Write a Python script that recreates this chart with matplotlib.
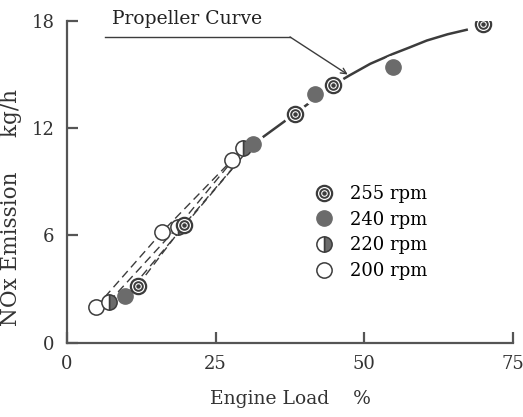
import matplotlib
matplotlib.use('Agg')
import matplotlib.pyplot as plt
from matplotlib.lines import Line2D
from matplotlib.legend_handler import HandlerTuple

plt.rcParams['font.family'] = ['DejaVu Serif']

# readings (Engine Load %, NOx kg/h)
load_200 = [4.9, 16.0, 27.7]
nox_200 = [2.0, 6.2, 10.2]
load_220 = [7.1, 18.7, 29.6]
nox_220 = [2.3, 6.5, 10.9]
load_240 = [9.7, 31.3, 41.7, 54.8]
nox_240 = [2.6, 11.1, 13.9, 15.4]
load_255 = [11.9, 19.7, 38.3, 44.7, 69.9]
nox_255 = [3.2, 6.6, 12.8, 14.4, 17.8]

# propeller curve (traced)
prop_load = [31.3, 38.3, 44.7, 47.5, 51.0, 54.8, 57.5, 60.5, 64.0, 67.2]
prop_nox = [11.1, 12.8, 14.4, 14.95, 15.6, 16.15, 16.5, 16.9, 17.25, 17.5]

ink = '#3c3c3c'
fill = '#6b6b6b'

fig = plt.figure(figsize=(5.23, 4.17), dpi=100)
ax = fig.add_axes([0.128, 0.178, 0.853, 0.772])

# dashed lines for each speed
dash = dict(color=ink, lw=1.0, ls=(0, (6, 3.5)), zorder=1)
ax.plot(load_200, nox_200, **dash)
ax.plot(load_220, nox_220, **dash)
ax.plot([load_240[0], load_240[1]], [nox_240[0], nox_240[1]], **dash)
ax.plot([load_255[0], load_255[1], load_240[1]], [nox_255[0], nox_255[1], nox_240[1]], **dash)

ax.plot(prop_load, prop_nox, color=ink, lw=1.8, zorder=1)

ms = 11
# white halo so the curve stops short of markers
for xs, ys in [(load_240[1:], nox_240[1:]), (load_255[2:], nox_255[2:])]:
    ax.plot(xs, ys, 'o', ms=ms + 5, mfc='white', mec='white', zorder=2)

ax.plot(load_200, nox_200, 'o', ms=ms, mfc='white', mec=ink, mew=1.1, zorder=3)
ax.plot(load_220, nox_220, 'o', ms=ms, fillstyle='right', mfc=fill, mfcalt='white',
        mec=ink, mew=1.1, zorder=3)
ax.plot(load_240, nox_240, 'o', ms=ms, mfc=fill, mec=fill, zorder=3)
ax.plot(load_255, nox_255, 'o', ms=ms, mfc='white', mec=ink, mew=1.6, zorder=3)
ax.plot(load_255, nox_255, 'o', ms=6.2, mfc='white', mec=ink, mew=1.4, zorder=4)
ax.plot(load_255, nox_255, 'o', ms=2.2, mfc=ink, mec=ink, zorder=5)

# annotation
ax.plot([6.4, 37.5], [17.1, 17.1], color=ink, lw=1.0, clip_on=False)
ax.annotate('', xy=(47.2, 15.0), xytext=(37.5, 17.1),
            arrowprops=dict(arrowstyle='->', color=ink, lw=1.0, shrinkA=0, shrinkB=0))
ax.text(7.6, 18.1, 'Propeller Curve', fontsize=13.5, va='center', ha='left', color='#222222')

# legend
h255 = (Line2D([], [], ls='', marker='o', ms=ms, mfc='white', mec=ink, mew=1.6),
        Line2D([], [], ls='', marker='o', ms=6.2, mfc='none', mec=ink, mew=1.4),
        Line2D([], [], ls='', marker='o', ms=2.2, mfc=ink, mec=ink))
h240 = Line2D([], [], ls='', marker='o', ms=ms, mfc=fill, mec=fill)
h220 = Line2D([], [], ls='', marker='o', ms=ms, fillstyle='right', mfc=fill,
              mfcalt='white', mec=ink, mew=1.1)
h200 = Line2D([], [], ls='', marker='o', ms=ms, mfc='white', mec=ink, mew=1.1)
ax.legend([h255, h240, h220, h200], ['255 rpm', '240 rpm', '220 rpm', '200 rpm'],
          handler_map={tuple: HandlerTuple(ndivide=1)}, frameon=False,
          loc='upper left', bbox_to_anchor=(0.52, 0.54), fontsize=13,
          handlelength=1.0, handletextpad=0.95, labelspacing=0.42)

ax.set_xlim(0, 75)
ax.set_ylim(0, 18)
ax.set_xticks([0, 25, 50, 75])
ax.set_yticks([0, 6, 12, 18])
ax.spines['top'].set_visible(False)
ax.spines['right'].set_visible(False)
for s in ['left', 'bottom']:
    ax.spines[s].set_linewidth(1.6)
    ax.spines[s].set_color('#555555')
ax.tick_params(direction='in', length=8, width=1.6, color='#555555',
               labelsize=13, labelcolor='#333333', pad=9)

ax.set_xlabel('Engine Load    %', fontsize=13.5, color='#333333', labelpad=12)
ax.set_ylabel('NOx Emission     kg/h', fontsize=15.5, color='#333333')
ax.yaxis.set_label_coords(-0.10, 0.42)

fig.savefig('out.png', dpi=100)
